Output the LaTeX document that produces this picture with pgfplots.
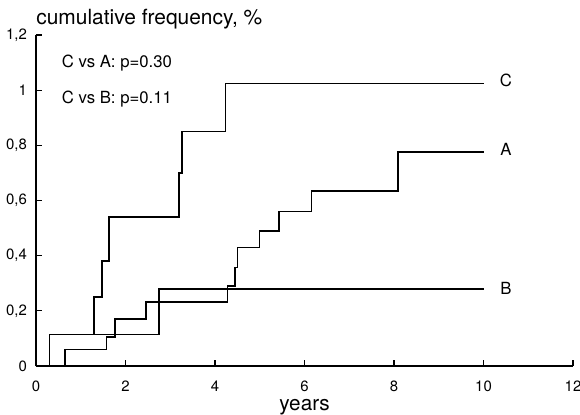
\documentclass[border=0pt]{standalone}
\usepackage{fontspec}
\setmainfont{TeX Gyre Heros}
\usepackage{pgfplots}
\pgfplotsset{compat=1.18}
\begin{document}
\begin{tikzpicture}
\begin{axis}[
  at={(0,0)}, anchor=origin,
  scale only axis,
  width=268.5bp, height=165.5bp,
  xmin=0, xmax=12, ymin=0, ymax=1.2,
  xtick={0,2,...,12},
  ytick={0,0.2,0.4,0.6,0.8,1,1.2},
  axis x line*=bottom, axis y line*=left,
  axis line style={-, line width=0.6pt},
  tick align=inside,
  major tick length=3bp,
  tick style={line width=0.6pt, black},
  /pgf/number format/assume math mode=true,
  /pgf/number format/use comma,
  /pgf/number format/fixed,
  ticklabel style={font=\fontsize{7.5}{9}\selectfont},
  yticklabel style={xshift=-1bp},
  xticklabel style={yshift=-4bp},
  xlabel={years},
  xlabel style={at={(axis description cs:0.5,0)}, anchor=center, yshift=-20.5bp, font=\fontsize{10.4}{12}\selectfont},
  clip=false,
]
% C
\addplot[const plot, black, line width=0.75pt] coordinates {(0,0) (0.3,0.115) (1.3,0.25) (1.47,0.38) (1.63,0.54) (3.2,0.70) (3.26,0.85) (4.23,1.025) (10,1.025)};
% B
\addplot[const plot, black, line width=0.75pt] coordinates {(0,0) (0.3,0.115) (2.75,0.28) (10,0.28)};
% A
\addplot[const plot, black, line width=0.75pt] coordinates {(0,0) (0.65,0.06) (1.58,0.105) (1.77,0.17) (2.46,0.232) (4.28,0.29) (4.45,0.357) (4.5,0.43) (4.99,0.49) (5.43,0.56) (6.16,0.635) (8.09,0.776) (10,0.776)};
\node[font=\fontsize{8.4}{10}\selectfont] at (axis cs:10.5,1.035) {C};
\node[font=\fontsize{8.4}{10}\selectfont] at (axis cs:10.5,0.785) {A};
\node[font=\fontsize{8.4}{10}\selectfont] at (axis cs:10.5,0.28) {B};
\node[font=\fontsize{8.4}{10}\selectfont, anchor=west] at (axis cs:0.42,1.098) {C vs A: p=0.30};
\node[font=\fontsize{8.4}{10}\selectfont, anchor=west] at (axis cs:0.42,0.967) {C vs B: p=0.11};
\node[font=\fontsize{10.5}{12}\selectfont, anchor=base west, inner sep=0pt] at (rel axis cs:0,1) [yshift=5bp] {cumulative frequency, \%};
\end{axis}
\pgfresetboundingbox
\path[use as bounding box] (-18bp,-24.5bp) rectangle (272bp,183bp);
\end{tikzpicture}
\end{document}
